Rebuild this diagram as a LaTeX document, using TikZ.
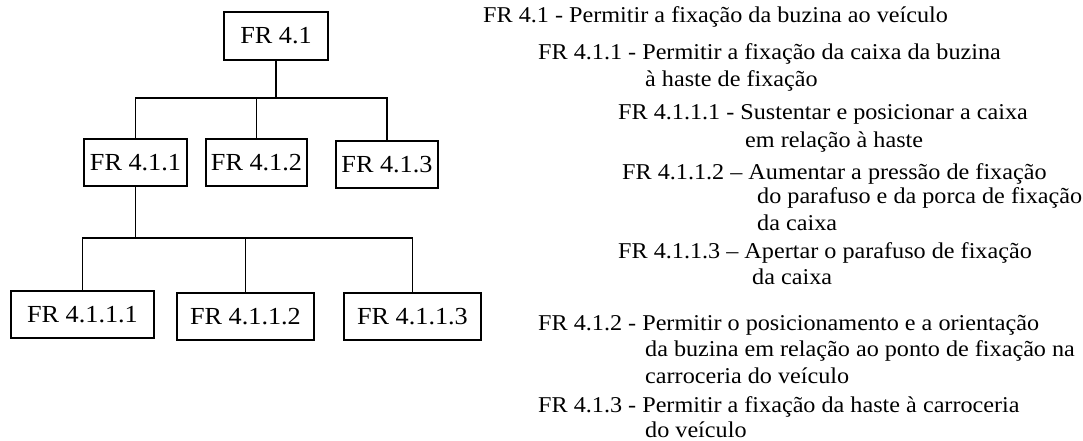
\documentclass[tikz,border=0pt]{standalone}
\usepackage{fontspec}
\setmainfont[FakeStretch=1.07]{Liberation Serif}
\begin{document}
\begin{tikzpicture}[x=1pt,y=-1pt,
  box/.style={draw=black,line width=1.8pt,minimum height=47pt,inner sep=0pt,
    font=\fontsize{24.5}{28}\selectfont},
  link/.style={draw=black,line width=1.8pt},
  ln/.style={anchor=base west,inner sep=0pt,font=\fontsize{22.6}{26.5}\selectfont}]
\useasboundingbox[fill=white] (0,0) rectangle (1083,441);
% tree
\node[box,minimum width=104pt,minimum height=48pt] (r) at (276,36) {FR 4.1};
\node[box,minimum width=103pt] (a) at (135.5,162.5) {FR 4.1.1};
\node[box,minimum width=101pt] (b) at (256.5,162.5) {FR 4.1.2};
\node[box,minimum width=102pt] (c) at (387,164.5) {FR 4.1.3};
\node[box,minimum width=143pt] (d) at (82.5,314.5) {FR 4.1.1.1};
\node[box,minimum width=137pt] (e) at (245.5,316.5) {FR 4.1.1.2};
\node[box,minimum width=137pt] (f) at (412.5,316.5) {FR 4.1.1.3};
\coordinate (j1) at (276,98);
\coordinate (j2) at (135.5,238);
\draw[link] (r.south) -- (j1);
\draw[link] (a.north) |- (j1) -| (c.north);
\draw[link] (b.north) -- (b.north |- j1);
\draw[link] (a.south) -- (j2);
\draw[link] (d.north) |- (j2) -| (f.north);
\draw[link] (e.north) -- (e.north |- j2);
% text
\node[ln] (t1) at (483,23) {FR 4.1 - Permitir a fixação da buzina ao veículo};
\node[ln] (t2) at (538,60) {FR 4.1.1 - Permitir a fixação da caixa da buzina};
\node[ln] (t3) at (645,87) {à haste de fixação};
\node[ln] (t4) at (618,120) {FR 4.1.1.1 - Sustentar e posicionar a caixa};
\node[ln] (t5) at (745,147) {em relação à haste};
\node[ln] (t6) at (622,179) {FR 4.1.1.2 – Aumentar a pressão de fixação};
\node[ln] (t7) at (757,203) {do parafuso e da porca de fixação};
\node[ln] (t8) at (757,230) {da caixa};
\node[ln] (t9) at (618,258) {FR 4.1.1.3 – Apertar o parafuso de fixação};
\node[ln] (t10) at (752,284) {da caixa};
\node[ln] (t11) at (538,330) {FR 4.1.2 - Permitir o posicionamento e a orientação};
\node[ln] (t12) at (645,356) {da buzina em relação ao ponto de fixação na};
\node[ln] (t13) at (645,383) {carroceria do veículo};
\node[ln] (t14) at (538,412) {FR 4.1.3 - Permitir a fixação da haste à carroceria};
\node[ln] (t15) at (645,437) {do veículo};
\end{tikzpicture}
\end{document}
